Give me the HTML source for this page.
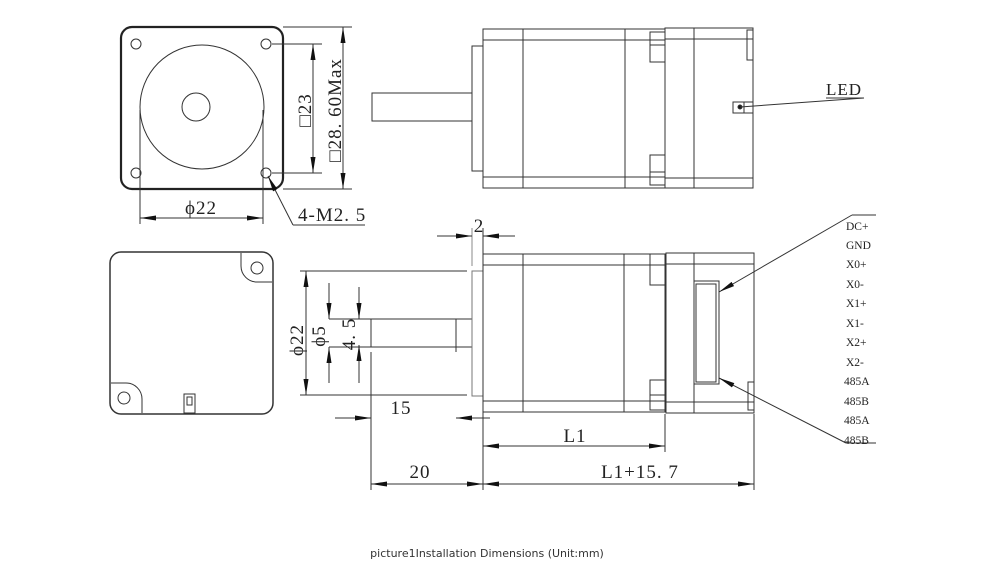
<!DOCTYPE html>
<html><head><meta charset="utf-8"><style>
html,body{margin:0;padding:0;background:#fff;}
svg{display:block}
.t{font-family:"Liberation Serif",serif;fill:#222;letter-spacing:1px}
.l{font-family:"Liberation Serif",serif;fill:#222;font-size:11.5px}
</style></head><body>
<svg width="999" height="573" viewBox="0 0 999 573" xmlns="http://www.w3.org/2000/svg">
<defs>
<marker id="a" viewBox="0 0 16 6" refX="16" refY="3" markerWidth="16" markerHeight="6" orient="auto-start-reverse" markerUnits="userSpaceOnUse"><path d="M0,0.5L16,3L0,5.5z" fill="#111"/></marker>
</defs>
<g fill="none" stroke="#333" stroke-width="1">
<!-- front view -->
<rect x="121" y="27" width="162" height="162" rx="11" stroke-width="2.2" stroke="#222"/>
<circle cx="202" cy="107" r="62"/>
<circle cx="196" cy="107" r="14"/>
<circle cx="136" cy="44" r="5"/><circle cx="266" cy="44" r="5"/>
<circle cx="136" cy="173" r="5"/><circle cx="266" cy="173" r="5"/>
<!-- dims front -->
<line x1="272" y1="44" x2="322" y2="44"/><line x1="272" y1="173" x2="322" y2="173"/>
<line x1="313" y1="44" x2="313" y2="173" marker-start="url(#a)" marker-end="url(#a)"/>
<line x1="283" y1="27" x2="352" y2="27"/><line x1="283" y1="189" x2="352" y2="189"/>
<line x1="343" y1="27" x2="343" y2="189" marker-start="url(#a)" marker-end="url(#a)"/>
<line x1="140" y1="110" x2="140" y2="224"/><line x1="263" y1="110" x2="263" y2="224"/>
<line x1="140" y1="218" x2="263" y2="218" marker-start="url(#a)" marker-end="url(#a)"/>
<polyline points="293,225 365,225"/>
<line x1="293" y1="225" x2="268" y2="176" marker-end="url(#a)"/>

<!-- top side view -->
<rect x="372" y="93" width="100" height="28"/>
<rect x="472" y="46" width="11" height="125"/>
<rect x="483" y="29" width="182" height="159"/>
<line x1="483" y1="40" x2="665" y2="40"/><line x1="483" y1="177" x2="665" y2="177"/>
<line x1="523" y1="29" x2="523" y2="188"/><line x1="625" y1="29" x2="625" y2="188"/>
<rect x="650" y="32" width="15" height="30"/><line x1="650" y1="45" x2="665" y2="45"/>
<rect x="650" y="155" width="15" height="30"/><line x1="650" y1="172" x2="665" y2="172"/>
<rect x="665" y="28" width="88" height="160"/>
<line x1="694" y1="28" x2="694" y2="188"/>
<line x1="665" y1="39" x2="753" y2="39"/><line x1="665" y1="178" x2="753" y2="178"/>
<rect x="747" y="30" width="6" height="30"/>
<rect x="733" y="102" width="11" height="11"/><line x1="744" y1="102" x2="753" y2="102"/><line x1="744" y1="113" x2="753" y2="113"/>
<circle cx="740" cy="107" r="2" fill="#111"/>
<line x1="740" y1="107" x2="864" y2="98"/>
<line x1="826" y1="98" x2="864" y2="98"/>

<!-- back view -->
<rect x="110" y="252" width="163" height="162" rx="11" stroke-width="1.5"/>
<path d="M241,253 V266 A16,16 0 0 0 257,282 H272"/>
<circle cx="257" cy="268" r="6"/>
<path d="M111,383 H126 A16,16 0 0 1 142,399 V413"/>
<circle cx="124" cy="398" r="6"/>
<rect x="184" y="394" width="11" height="19"/><rect x="187" y="397" width="5" height="8"/>

<!-- bottom side view -->
<polyline points="472,319 371,319 371,347 472,347"/>
<polyline points="456,352 456,319 472,319"/>
<rect x="472" y="271" width="11" height="125" stroke="#777"/>
<rect x="483" y="254" width="182" height="158"/>
<line x1="483" y1="265" x2="665" y2="265"/><line x1="483" y1="401" x2="665" y2="401"/>
<line x1="523" y1="254" x2="523" y2="412"/><line x1="624" y1="254" x2="624" y2="412"/>
<rect x="650" y="254" width="15" height="31"/><line x1="650" y1="265" x2="665" y2="265"/>
<rect x="650" y="380" width="15" height="30"/><line x1="650" y1="395" x2="665" y2="395"/>
<rect x="666" y="253" width="88" height="160"/>
<line x1="694" y1="253" x2="694" y2="413"/>
<line x1="666" y1="264" x2="754" y2="264"/><line x1="666" y1="402" x2="754" y2="402"/>
<rect x="694" y="281" width="25" height="103"/>
<rect x="696" y="284" width="20" height="98"/>
<rect x="748" y="382" width="6" height="28"/>
<line x1="852" y1="215" x2="719" y2="292" marker-end="url(#a)"/><line x1="852" y1="215" x2="876" y2="215"/>
<line x1="846" y1="443" x2="719" y2="378" marker-end="url(#a)"/><line x1="846" y1="443" x2="876" y2="443"/>

<!-- dims bottom -->
<line x1="472" y1="228" x2="472" y2="266" stroke="#888"/><line x1="483" y1="228" x2="483" y2="254"/>
<line x1="437" y1="236" x2="472" y2="236" marker-end="url(#a)"/>
<line x1="515" y1="236" x2="483" y2="236" marker-end="url(#a)"/>
<line x1="300" y1="271" x2="467" y2="271"/><line x1="300" y1="395" x2="467" y2="395"/>
<line x1="306" y1="271" x2="306" y2="395" marker-start="url(#a)" marker-end="url(#a)"/>
<line x1="329" y1="283" x2="329" y2="319" marker-end="url(#a)"/>
<line x1="329" y1="383" x2="329" y2="347" marker-end="url(#a)"/>
<line x1="329" y1="319" x2="371" y2="319"/><line x1="329" y1="347" x2="371" y2="347"/>
<line x1="359" y1="287" x2="359" y2="319" marker-end="url(#a)"/>
<line x1="359" y1="383" x2="359" y2="345" marker-end="url(#a)"/>
<line x1="371" y1="352" x2="371" y2="490"/>
<line x1="335" y1="418" x2="371" y2="418" marker-end="url(#a)"/>
<line x1="490" y1="418" x2="456" y2="418" marker-end="url(#a)"/>
<line x1="483" y1="412" x2="483" y2="490"/>
<line x1="371" y1="484" x2="483" y2="484" marker-start="url(#a)" marker-end="url(#a)"/>
<line x1="665" y1="414" x2="665" y2="452"/>
<line x1="483" y1="446" x2="665" y2="446" marker-start="url(#a)" marker-end="url(#a)"/>
<line x1="754" y1="414" x2="754" y2="490"/>
<line x1="483" y1="484" x2="754" y2="484" marker-start="url(#a)" marker-end="url(#a)"/>
</g>
<!-- texts -->
<text class="t" font-size="19" transform="translate(311,110) rotate(-90)" text-anchor="middle">□23</text>
<text class="t" font-size="19" transform="translate(341,110) rotate(-90)" text-anchor="middle">□28. 60Max</text>
<text class="t" font-size="19" x="201" y="214" text-anchor="middle">ϕ22</text>
<text class="t" font-size="19" x="298" y="221">4-M2. 5</text>
<text class="t" font-size="17" x="826" y="95">LED</text>
<text class="t" font-size="19" x="479" y="232" text-anchor="middle">2</text>
<text class="t" font-size="19" transform="translate(303,340) rotate(-90)" text-anchor="middle">ϕ22</text>
<text class="t" font-size="19" transform="translate(325,336) rotate(-90)" text-anchor="middle">ϕ5</text>
<text class="t" font-size="19" transform="translate(355,334) rotate(-90)" text-anchor="middle">4. 5</text>
<text class="t" font-size="19" x="401" y="414" text-anchor="middle">15</text>
<text class="t" font-size="19" x="420" y="478" text-anchor="middle">20</text>
<text class="t" font-size="19" x="575" y="442" text-anchor="middle">L1</text>
<text class="t" font-size="19" x="640" y="478" text-anchor="middle">L1+15. 7</text>
<g class="l">
<text x="846" y="230">DC+</text><text x="846" y="249">GND</text><text x="846" y="268">X0+</text><text x="846" y="288">X0-</text>
<text x="846" y="307">X1+</text><text x="846" y="327">X1-</text><text x="846" y="346">X2+</text><text x="846" y="366">X2-</text>
<text x="844" y="385">485A</text><text x="844" y="405">485B</text><text x="844" y="424">485A</text><text x="844" y="444">485B</text>
</g>
<text x="487" y="557" text-anchor="middle" font-family="'DejaVu Sans',sans-serif" font-size="11" fill="#333">picture1Installation Dimensions (Unit:mm)</text>
</svg>
</body></html>
